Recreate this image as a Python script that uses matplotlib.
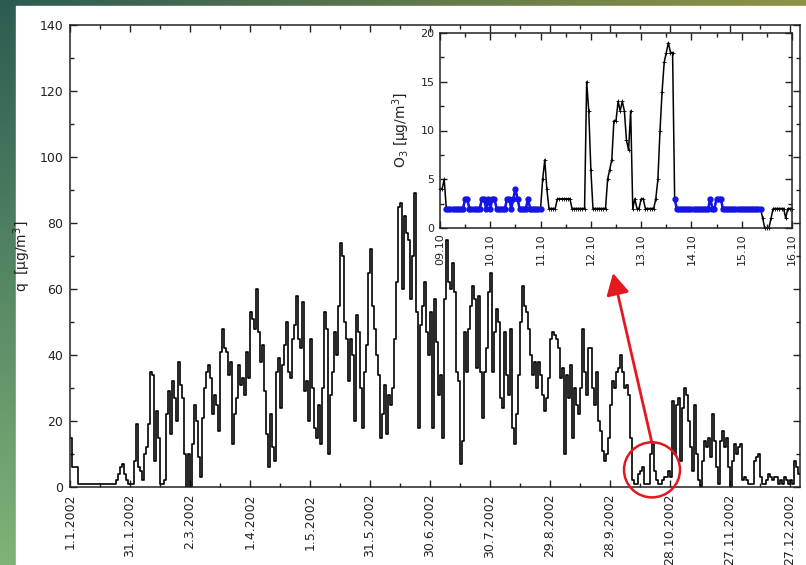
import numpy as np
import matplotlib.pyplot as plt
from matplotlib.patches import Ellipse, FancyArrowPatch, Rectangle
from matplotlib.ticker import MultipleLocator, FixedLocator
from datetime import date, timedelta

plt.rcParams['font.family'] = 'DejaVu Sans'

# daily ozone, 1.1.2002 - 31.12.2002
q_daily = [
    15, 6, 6, 6, 1, 1, 1, 1, 1, 1,
    1, 1, 1, 1, 1, 1, 1, 1, 1, 1,
    1, 1, 1, 2, 4, 6, 7, 4, 2, 1,
    1, 1, 8, 19, 6, 5, 2, 10, 12, 19,
    35, 34, 8, 23, 15, 1, 1, 2, 22, 29,
    16, 32, 27, 20, 38, 31, 27, 10, 0, 10,
    0, 13, 25, 20, 9, 3, 21, 30, 35, 37,
    33, 22, 28, 25, 17, 41, 48, 42, 41, 34,
    38, 13, 22, 27, 37, 31, 33, 28, 41, 33,
    53, 51, 48, 60, 47, 38, 43, 29, 16, 6,
    22, 12, 8, 35, 39, 24, 37, 43, 50, 35,
    33, 45, 49, 58, 45, 42, 56, 29, 32, 20,
    45, 30, 18, 15, 25, 13, 30, 53, 48, 10,
    28, 35, 47, 40, 55, 74, 70, 50, 45, 32,
    45, 40, 20, 52, 47, 30, 18, 35, 43, 65,
    72, 55, 48, 40, 34, 15, 22, 31, 16, 28,
    25, 30, 45, 62, 85, 86, 60, 82, 77, 75,
    57, 70, 89, 53, 18, 49, 55, 62, 47, 40,
    53, 18, 57, 44, 28, 34, 15, 57, 75, 62,
    60, 68, 59, 35, 32, 7, 14, 47, 35, 48,
    55, 61, 57, 36, 58, 35, 21, 35, 42, 59,
    65, 35, 47, 54, 50, 27, 24, 47, 34, 28,
    48, 18, 13, 22, 34, 50, 61, 55, 53, 48,
    40, 34, 38, 30, 38, 34, 28, 23, 27, 33,
    45, 47, 46, 45, 42, 33, 36, 10, 34, 27,
    37, 15, 30, 25, 22, 30, 48, 35, 28, 42,
    42, 30, 25, 35, 20, 17, 11, 8, 10, 15,
    25, 32, 30, 35, 36, 40, 35, 30, 31, 28,
    15, 2, 1, 1, 4, 5, 6, 1, 1, 1,
    10, 13, 5, 2, 1, 1, 2, 3, 3, 5,
    3, 26, 10, 25, 27, 8, 24, 30, 28, 20,
    12, 5, 25, 10, 2, 0, 8, 14, 12, 15,
    9, 22, 14, 6, 1, 14, 17, 12, 15, 6,
    0, 8, 13, 10, 12, 13, 2, 3, 2, 1,
    1, 1, 8, 9, 10, 3, 1, 1, 2, 4,
    3, 2, 3, 3, 1, 2, 1, 3, 2, 1,
    2, 1, 8, 6, 4,
]

# hourly O3, 09.10 00:00 - 16.10 00:00
o3_hourly = [
    4, 4, 5, 2, 2, 2, 2, 2, 2, 2, 2, 2,        # 0-11
    3, 3, 2, 2, 2, 2, 2, 2, 3, 3, 2, 3,        # 12-23
    2, 3, 3, 2, 2, 2, 2, 2, 3, 3, 2, 3,        # 24-35
    4, 3, 2, 2, 2, 2, 3, 2, 2, 2, 2, 2,        # 36-47
    2, 5, 7, 4, 2, 2, 2, 2, 3, 3, 3, 3,        # 48-59
    3, 3, 3, 2, 2, 2, 2, 2, 2, 2, 15, 12,      # 60-71
    6, 2, 2, 2, 2, 2, 2, 2, 5, 6, 7, 11,       # 72-83
    11, 13, 12, 13, 12, 9, 8, 12, 2, 3, 2, 2,  # 84-95
    3, 3, 2, 2, 2, 2, 2, 3, 5, 10, 14, 17,     # 96-107
    18, 19, 18, 18, 3, 2, 2, 2, 2, 2, 2, 2,    # 108-119
    2, 2, 2, 2, 2, 2, 2, 2, 2, 3, 2, 2,        # 120-131
    3, 3, 3, 2, 2, 2, 2, 2, 2, 2, 2, 2,        # 132-143
    2, 2, 2, 2, 2, 2, 2, 2, 2, 2, 1, 0,        # 144-155
    0, 0, 1, 2, 2, 2, 2, 2, 2, 1, 2, 2,        # 156-167
    2,
]
# hours replaced by the detection-limit value (blue)
flagged_hours = list(range(3, 49)) + list(range(112, 154))

year_start = date(2002, 1, 1)
inset_start = date(2002, 10, 9)

W, H = 806, 565
fig = plt.figure(figsize=(W / 100, H / 100), dpi=100)

# slide background: green gradient with a white sheet on top
bg = fig.add_axes([0, 0, 1, 1], zorder=-10)
tl = np.array([0.17, 0.36, 0.32])
tr = np.array([0.56, 0.58, 0.27])
bl = np.array([0.50, 0.70, 0.47])
br = np.array([0.60, 0.65, 0.40])
u = np.linspace(0, 1, W)[None, :, None]
v = np.linspace(0, 1, H)[:, None, None]
grad = tl * (1 - u) * (1 - v) + tr * u * (1 - v) + bl * (1 - u) * v + br * u * v
bg.imshow(grad, extent=[0, 1, 0, 1], aspect='auto', origin='upper')
bg.add_patch(Rectangle((16 / W, 0), 1, 1 - 6 / H, color='white', transform=bg.transAxes))
bg.set_xlim(0, 1)
bg.set_ylim(0, 1)
bg.axis('off')

text_col = '#222222'

# main plot
ax = fig.add_axes([70 / W, 1 - 487 / H, 730 / W, 462 / H])
days = np.arange(len(q_daily) + 1)
ax.plot(days, q_daily + [q_daily[-1]], drawstyle='steps-post', color='black', lw=1.2)
ax.set_xlim(0, 365)
ax.set_ylim(0, 140)

tick_days = list(range(0, 361, 30))
tick_labels = []
for d in tick_days:
    t = year_start + timedelta(days=d)
    tick_labels.append(f"{t.day}.{t.month}.{t.year}")
ax.xaxis.set_major_locator(FixedLocator(tick_days))
ax.set_xticklabels(tick_labels, rotation=90)
ax.xaxis.set_minor_locator(MultipleLocator(15))
ax.yaxis.set_major_locator(MultipleLocator(20))
ax.yaxis.set_minor_locator(MultipleLocator(10))
ax.tick_params(which='both', direction='in', top=True, right=True, width=1,
               colors=text_col, labelsize=9, pad=5)
ax.tick_params(which='major', length=5)
ax.tick_params(which='minor', length=3)
for s in ax.spines.values():
    s.set_linewidth(1.1)
    s.set_color('#222222')
ax.set_ylabel('q  [µg/m$^3$]', fontsize=10, color=text_col)
ax.yaxis.set_label_coords(-0.051, 0.5)

# red circle round the October minimum and arrow up to the inset
red = '#e3191f'
ax.add_patch(Ellipse((291, 5.2), width=28, height=16.7, fill=False,
                     ec=red, lw=1.8, clip_on=False, zorder=5))
ax.add_patch(FancyArrowPatch((291, 13.3), (271.5, 64.8),
                             arrowstyle='-|>,head_length=1.3,head_width=0.7',
                             mutation_scale=10, color=red, lw=2.0,
                             shrinkA=0, shrinkB=0, zorder=5))

# inset: one week of hourly O3
axin = fig.add_axes([440 / W, 1 - 228 / H, 352 / W, 195 / H])
hours = np.arange(len(o3_hourly))
o3 = np.array(o3_hourly, dtype=float)
flag = np.zeros(len(o3), dtype=bool)
flag[flagged_hours] = True
axin.plot(hours, o3, color='black', lw=1.1, marker='+', ms=3, mew=0.6, clip_on=False)
axin.plot(hours, np.where(flag, o3, np.nan), color='#1414e6', lw=1.8,
          marker='o', ms=3.5, clip_on=False)
axin.set_xlim(0, 168)
axin.set_ylim(0, 20)

inset_ticks = list(range(0, 169, 24))
inset_labels = [(inset_start + timedelta(days=i)).strftime('%d.%m') for i in range(len(inset_ticks))]
axin.xaxis.set_major_locator(FixedLocator(inset_ticks))
axin.set_xticklabels(inset_labels, rotation=90)
axin.xaxis.set_minor_locator(MultipleLocator(12))
axin.yaxis.set_major_locator(MultipleLocator(5))
axin.yaxis.set_minor_locator(MultipleLocator(2.5))
axin.tick_params(which='both', direction='in', top=True, right=True, width=1,
                 colors=text_col, labelsize=8, pad=4)
axin.tick_params(which='major', length=5)
axin.tick_params(which='minor', length=3)
for s in axin.spines.values():
    s.set_linewidth(1.1)
    s.set_color('#222222')
axin.set_ylabel('O$_3$ [µg/m$^3$]', fontsize=10, color=text_col, labelpad=6)

fig.savefig('out.png', dpi=100)
